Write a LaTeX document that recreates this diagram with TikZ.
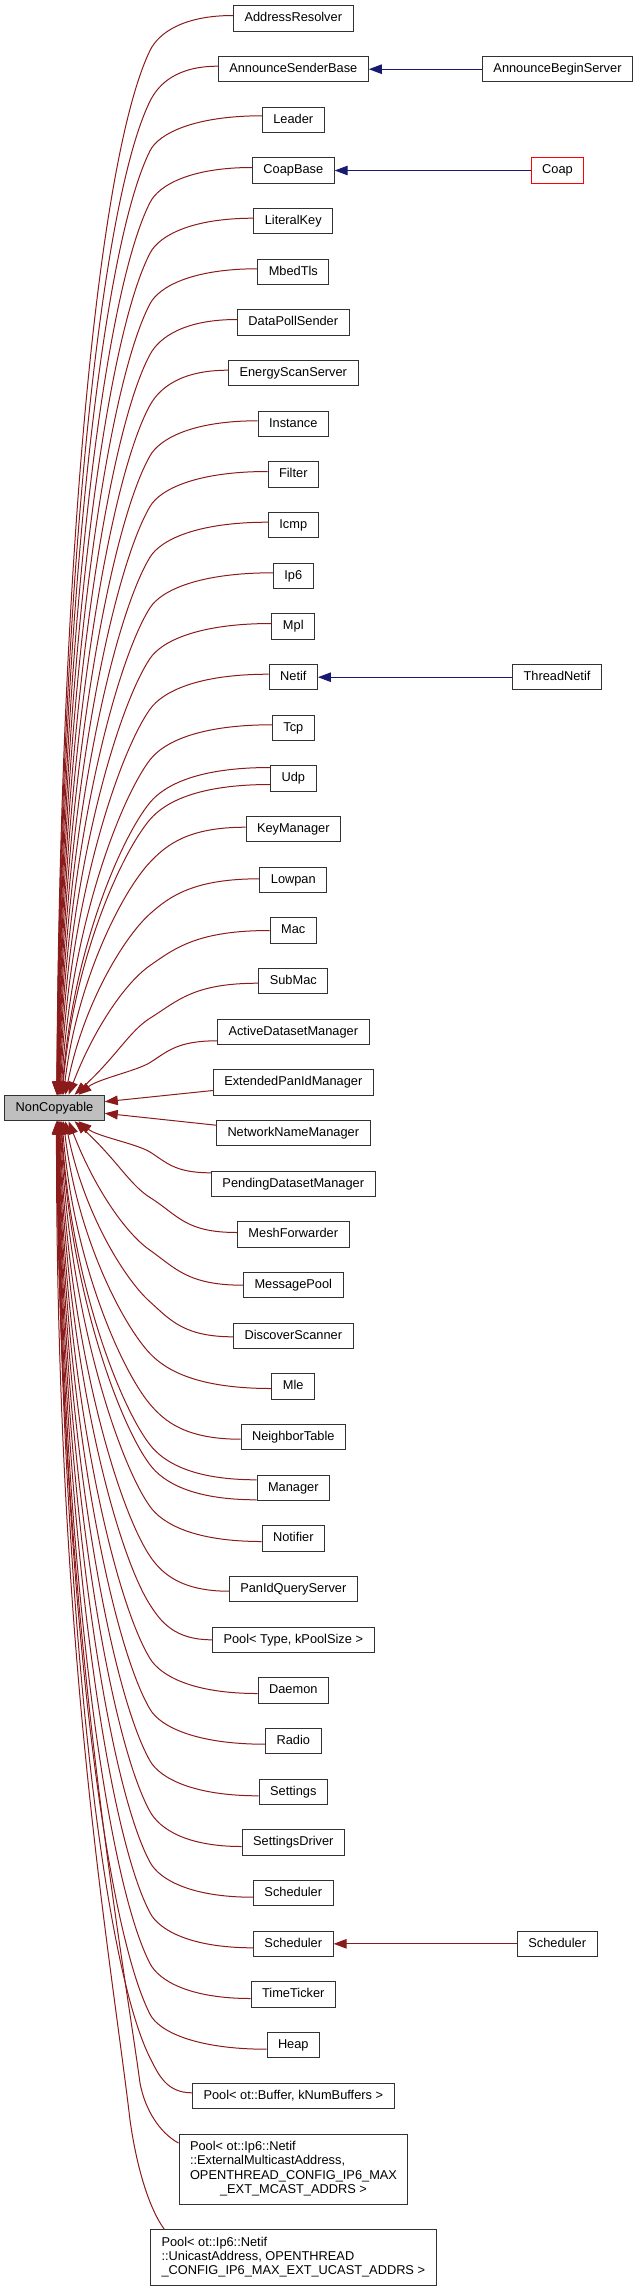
\documentclass[tikz,border=0pt]{standalone}
\usepackage{fontspec}
\setmainfont{Liberation Sans}
\usetikzlibrary{arrows.meta,calc}
\definecolor{fb}{RGB}{139,26,26}
\definecolor{mb}{RGB}{25,25,112}
\definecolor{ncfill}{RGB}{191,191,191}
\definecolor{bord}{RGB}{50,50,50}
\tikzset{
 >={Triangle[length=13pt,width=9.5pt]},
 box/.style={draw=bord, fill=white, line width=1pt, inner xsep=11pt, inner ysep=0pt, minimum height=25.5pt, text height=9.2pt, text depth=2.6pt, font=\fontsize{12.8}{14.4}\selectfont},
 mbox/.style={draw=bord, fill=white, line width=1pt, inner xsep=11pt, inner ysep=6pt, font=\fontsize{12.8}{14.4}\selectfont},
 inh/.style={draw=fb, line width=1pt, <-},
 pub/.style={draw=mb, line width=1pt, <-},
}
\begin{document}
\begin{tikzpicture}[x=1pt,y=1pt]
\useasboundingbox (0,0) rectangle (637,-2291);
% base class
\node[box, fill=ncfill] (nc) at (54.5,-1108) {NonCopyable};
% derived classes
\node[box] (ar) at (293.3,-18.5) {AddressResolver};
\node[box] (asb) at (293.3,-69.2) {AnnounceSenderBase};
\node[box] (ldr) at (293.3,-119.8) {Leader};
\node[box] (cb) at (293.3,-170.5) {CoapBase};
\node[box] (lk) at (293.3,-221.2) {LiteralKey};
\node[box] (mbed) at (293.3,-271.8) {MbedTls};
\node[box] (dps) at (293.3,-322.5) {DataPollSender};
\node[box] (ess) at (293.3,-373.2) {EnergyScanServer};
\node[box] (inst) at (293.3,-423.8) {Instance};
\node[box] (filt) at (293.3,-474.5) {Filter};
\node[box] (icmp) at (293.3,-525.2) {Icmp};
\node[box] (ipsix) at (293.3,-575.8) {Ip6};
\node[box] (mpl) at (293.3,-626.5) {Mpl};
\node[box] (netif) at (293.3,-677.2) {Netif};
\node[box] (tcp) at (293.3,-727.8) {Tcp};
\node[box] (udp) at (293.3,-778.5) {Udp};
\node[box] (km) at (293.3,-829.2) {KeyManager};
\node[box] (lowpan) at (293.3,-879.8) {Lowpan};
\node[box] (mac) at (293.3,-930.5) {Mac};
\node[box] (smac) at (293.3,-981.2) {SubMac};
\node[box] (adm) at (293.3,-1031.8) {ActiveDatasetManager};
\node[box] (epm) at (293.3,-1082.5) {ExtendedPanIdManager};
\node[box] (nnm) at (293.3,-1133.2) {NetworkNameManager};
\node[box] (pdm) at (293.3,-1183.8) {PendingDatasetManager};
\node[box] (mf) at (293.3,-1234.5) {MeshForwarder};
\node[box] (mp) at (293.3,-1285.2) {MessagePool};
\node[box] (ds) at (293.3,-1335.8) {DiscoverScanner};
\node[box] (mle) at (293.3,-1386.5) {Mle};
\node[box] (nt) at (293.3,-1437.2) {NeighborTable};
\node[box] (mgr) at (293.3,-1487.8) {Manager};
\node[box] (ntf) at (293.3,-1538.5) {Notifier};
\node[box] (pqs) at (293.3,-1589.2) {PanIdQueryServer};
\node[box] (pool) at (293.3,-1639.8) {Pool< Type, kPoolSize >};
\node[box] (dmn) at (293.3,-1690.5) {Daemon};
\node[box] (radio) at (293.3,-1741.2) {Radio};
\node[box] (sett) at (293.3,-1791.8) {Settings};
\node[box] (sdrv) at (293.3,-1842.5) {SettingsDriver};
\node[box] (schA) at (293.3,-1893.2) {Scheduler};
\node[box] (schB) at (293.3,-1943.8) {Scheduler};
\node[box] (tt) at (293.3,-1994.5) {TimeTicker};
\node[box] (heap) at (293.3,-2045.2) {Heap};
\node[box] (pbuf) at (293.3,-2095.8) {Pool< ot::Buffer, kNumBuffers >};
\node[mbox, minimum height=70pt] (pmc) at (293.5,-2169) {\begin{tabular}{@{}l@{}}Pool< ot::Ip6::Netif\\::ExternalMulticastAddress,\\\multicolumn{1}{@{}c@{}}{ OPENTHREAD\_CONFIG\_IP6\_MAX}\\\multicolumn{1}{@{}c@{}}{\_EXT\_MCAST\_ADDRS >}\end{tabular}};
\node[mbox, minimum height=55pt] (puc) at (293.3,-2257.5) {\begin{tabular}{@{}l@{}}Pool< ot::Ip6::Netif\\::UnicastAddress, OPENTHREAD\\\_CONFIG\_IP6\_MAX\_EXT\_UCAST\_ADDRS >\end{tabular}};
% second level
\node[box] (absv) at (557.5,-69.2) {AnnounceBeginServer};
\node[box, draw=red] (coap) at (557.5,-170.5) {Coap};
\node[box] (tnet) at (557,-677.2) {ThreadNetif};
\node[box] (schC) at (557.2,-1943.8) {Scheduler};
% edges to second level
\draw[pub] (asb.east) -- (absv.west);
\draw[pub] (cb.east) -- (coap.west);
\draw[pub] (netif.east) -- (tnet.west);
\draw[inh] (schB.east) -- (schC.west);
% edges from classes above NonCopyable
\foreach \nm/\qY/\o in {ar/18.5/-3, asb/69.2/-3, ldr/119.8/-4, cb/170.5/-3, lk/221.2/-3, mbed/271.8/-3, dps/322.5/-3, ess/373.2/-3, inst/423.8/-3, filt/474.5/-3, icmp/525.2/-3, ipsix/575.8/-3, mpl/626.5/-3, netif/677.2/-3, tcp/727.8/-3, udp/778.5/-11, udp/778.5/6, km/829.2/-2, lowpan/879.8/-1, mac/930.5/0, smac/981.2/2, adm/1031.8/9}{
 \pgfmathsetmacro\qYa{\qY+\o}
 \pgfmathsetmacro\qoy{-1*\o}
 \pgfmathsetmacro\qD{1108-\qYa}
 \pgfmathsetmacro\qxs{min(24,2500/\qD)}
 \pgfmathsetmacro\qTx{54.5+\qxs}
 \pgfmathsetmacro\qBy{\qYa+min(35,0.4*(1095.2-\qYa))}
 \pgfmathsetmacro\qVt{1095.2-\qBy}
 \pgfmathsetmacro\qs{min(1.6,0.35+140/\qVt)}
 \pgfmathsetmacro\qg{min(1.2,(80/\qVt)^2)}
 \pgfmathsetmacro\qax{\qTx+0.5*\qVt*\qg}
 \pgfmathsetmacro\qay{-(1095.2-0.5*\qVt)}
 \pgfmathsetmacro\qk{0.1*\qVt+5}
 \pgfmathsetmacro\qbx{150-\qs*\qk}
 \pgfmathsetmacro\qby{-(\qBy+\qk)}
 \pgfmathsetmacro\qki{0.5*(\qBy-\qYa)}
 \pgfmathsetmacro\qcx{150+\qs*\qki}
 \pgfmathsetmacro\qcy{-(\qBy-\qki)}
 \pgfmathsetmacro\qnBy{-\qBy}
 \coordinate (qend) at ([yshift=\qoy pt]\nm.west);
 \draw[inh] let \p1=(qend) in
   ([xshift=\qxs pt]nc.north) .. controls (\qax,\qay) and (\qbx,\qby) .. (150,\qnBy)
   .. controls (\qcx,\qcy) and ({0.4*\x1+90pt},\y1) .. (qend);
}
% nearly horizontal edges
\draw[inh] ([yshift=6.3pt]nc.east) -- ([yshift=-8pt]epm.west);
\draw[inh] ([yshift=-5.3pt]nc.east) -- ([yshift=8pt]nnm.west);
% edges from classes below NonCopyable
\foreach \nm/\qY/\o in {pdm/1183.8/-11, mf/1234.5/-2, mp/1285.2/0, ds/1335.8/1, mle/1386.5/2, nt/1437.2/2, mgr/1487.8/-8, mgr/1487.8/12, ntf/1538.5/3, pqs/1589.2/2, pool/1639.8/0, dmn/1690.5/3, radio/1741.2/3, sett/1791.8/4, sdrv/1842.5/4, schA/1893.2/4, schB/1943.8/4, tt/1994.5/4, heap/2045.2/4, pbuf/2095.8/-3}{
 \pgfmathsetmacro\qYa{\qY+\o}
 \pgfmathsetmacro\qoy{-1*\o}
 \pgfmathsetmacro\qD{\qYa-1108}
 \pgfmathsetmacro\qxs{min(24,2500/\qD)}
 \pgfmathsetmacro\qTx{54.5+\qxs}
 \pgfmathsetmacro\qBy{\qYa-min(35,0.4*(\qYa-1120.8))}
 \pgfmathsetmacro\qVt{\qBy-1120.8}
 \pgfmathsetmacro\qs{min(1.6,0.35+140/\qVt)}
 \pgfmathsetmacro\qg{min(1.2,(80/\qVt)^2)}
 \pgfmathsetmacro\qax{\qTx+0.5*\qVt*\qg}
 \pgfmathsetmacro\qay{-(1120.8+0.5*\qVt)}
 \pgfmathsetmacro\qk{0.1*\qVt+5}
 \pgfmathsetmacro\qbx{150-\qs*\qk}
 \pgfmathsetmacro\qby{-(\qBy-\qk)}
 \pgfmathsetmacro\qki{0.5*(\qYa-\qBy)}
 \pgfmathsetmacro\qcx{150+\qs*\qki}
 \pgfmathsetmacro\qcy{-(\qBy+\qki)}
 \pgfmathsetmacro\qnBy{-\qBy}
 \coordinate (qend) at ([yshift=\qoy pt]\nm.west);
 \draw[inh] let \p1=(qend) in
   ([xshift=\qxs pt]nc.south) .. controls (\qax,\qay) and (\qbx,\qby) .. (150,\qnBy)
   .. controls (\qcx,\qcy) and ({0.4*\x1+90pt},\y1) .. (qend);
}
% the two multi-line pools
\draw[inh] ([xshift=2.4pt]nc.south) .. controls (58,-1600) and (122,-1950) .. (140,-2083)
   .. controls (145,-2110) and (160,-2133) .. ([yshift=26pt]pmc.west);
\draw[inh] ([xshift=2pt]nc.south) .. controls (56,-1650) and (110,-1950) .. (130,-2120)
   .. controls (137,-2170) and (150,-2210) .. ([xshift=14.4pt]puc.north west);
\end{tikzpicture}
\end{document}
